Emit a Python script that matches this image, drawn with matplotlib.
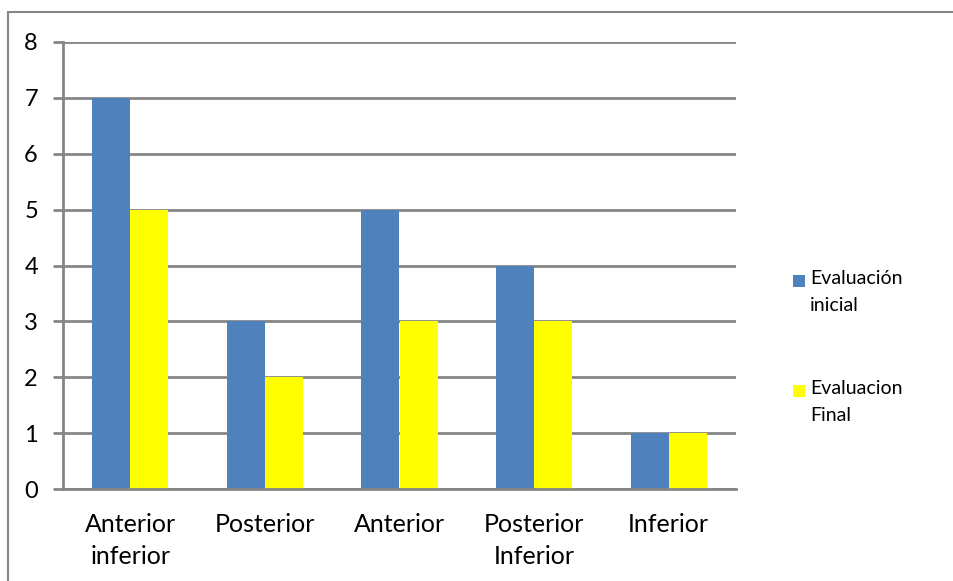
from matplotlib import pyplot as plt
from matplotlib.patches import Rectangle
import numpy as np

# chart data
categories = ["Anterior\ninferior", "Posterior", "Anterior", "Posterior\nInferior", "Inferior"]
inicial = [7, 3, 5, 4, 1]
final = [5, 2, 3, 3, 1]
series_names = ["Evaluación\ninicial", "Evaluacion\nFinal"]
y_ticks = [0, 1, 2, 3, 4, 5, 6, 7, 8]

plt.rcParams['font.family'] = ['Lato', 'DejaVu Sans']

fig = plt.figure(figsize=(9.54, 5.81), dpi=100)
ax = fig.add_axes([63/954, 1 - 489/581, (736 - 63)/954, (489 - 42)/581])

x = np.arange(len(categories))
w = 0.283
grid_col = '#868686'

b1 = ax.bar(x - w/2, inicial, w, color='#4f81bd', zorder=3)
b2 = ax.bar(x + w/2, final, w, color='#ffff00', zorder=3)

ax.set_xlim(-0.5, len(categories) - 0.5)
ax.set_ylim(0, 8)
ax.set_yticks(y_ticks)
ax.set_xticks(x)
ax.set_xticklabels(categories, fontsize=18, linespacing=1.5)
ax.tick_params(axis='x', length=0, pad=17)
ax.tick_params(axis='y', length=7, width=2, color=grid_col, labelsize=17, pad=11)
ax.yaxis.grid(True, color=grid_col, linewidth=2, zorder=0)

for side in ['top', 'right']:
    ax.spines[side].set_visible(False)
for side in ['left', 'bottom']:
    ax.spines[side].set_color(grid_col)
    ax.spines[side].set_linewidth(2)
    ax.spines[side].set_zorder(4)

# legend drawn manually to get the wide gap between entries
for bars, name, ytop in [(b1, series_names[0], 1 - 270/581), (b2, series_names[1], 1 - 380/581)]:
    col = bars[0].get_facecolor()
    fig.patches.append(Rectangle((793/954, ytop - 17/581), 12/954, 12/581,
                                 transform=fig.transFigure, facecolor=col, edgecolor='none'))
    fig.text(810/954, ytop, name, fontsize=14, va='top', ha='left', linespacing=1.7)

# outer chart frame
fig.patches.append(Rectangle((8/954, -0.05), 1.2, 1 - 12/581 + 0.05, transform=fig.transFigure,
                             fill=False, edgecolor='#868686', linewidth=1.5))

fig.savefig('out.png', dpi=100)
